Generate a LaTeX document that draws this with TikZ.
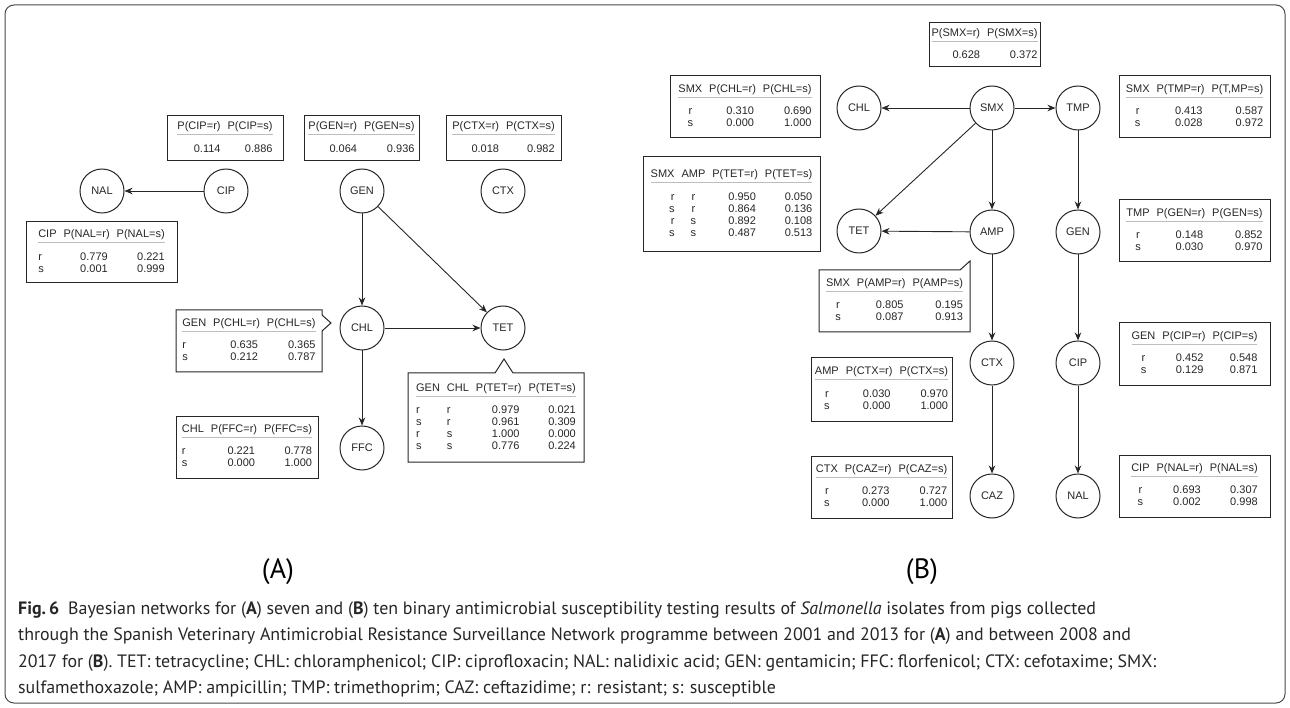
\documentclass[tikz,border=0pt]{standalone}
\usepackage{fontspec}
\setmainfont{Liberation Sans}
\newfontfamily\capfont{PT Sans}
\usepackage{colortbl}
\usetikzlibrary{arrows.meta}
\definecolor{rulegray}{HTML}{BDBDBD}
\definecolor{txt}{HTML}{262626}
\definecolor{framegray}{HTML}{4A4A4A}
\newcommand\tabfont{\fontsize{11}{12}\selectfont}
\newcommand\hdr{\\[1pt]\hline\noalign{\vskip 8.5pt}}
\newcommand\va[1]{#1\hspace{2pt}}
\newcommand\vb[1]{#1\hspace{5pt}}
\arrayrulecolor{rulegray}
\setlength\arrayrulewidth{1.1pt}
\setlength\tabcolsep{3.5pt}
\tikzset{
  circ/.style={circle, draw=txt, line width=1pt, minimum size=44pt, inner sep=0pt, font=\fontsize{11}{12}\selectfont, text=txt},
  tbl/.style={draw=txt, line width=1pt, inner sep=0pt, font=\tabfont, text=txt},
  tblc/.style={inner sep=0pt, font=\tabfont, text=txt},
  callout/.style={draw=txt, line width=1pt, line join=miter},
  arr/.style={draw=txt, line width=0.9pt, -{Stealth[length=8pt,width=6.5pt,inset=2.5pt]}},
  frame/.style={draw=framegray, line width=1pt, rounded corners=9pt},
  panel/.style={font=\capfont\fontsize{28}{30}\selectfont, text=black, inner sep=0pt},
  capt/.style={font=\capfont\fontsize{17.9}{22}\selectfont, text=txt, inner sep=0pt, anchor=base west}
}
\begin{document}
\begin{tikzpicture}[x=1pt,y=-1pt]
\useasboundingbox (0,0) rectangle (1290,708);
\draw[frame] (5,5) rectangle (1285,703);

% ---------------- Panel A ----------------
\node[circ] (NAL) at (102,191) {NAL};
\node[circ] (CIP) at (226,191) {CIP};
\node[circ] (GEN) at (362,191) {GEN};
\node[circ] (CTX) at (503,191) {CTX};
\node[circ] (CHL) at (362,328) {CHL};
\node[circ] (TET) at (503,328) {TET};
\node[circ] (FFC) at (362,448) {FFC};

\draw[arr] (CIP) -- (NAL);
\draw[arr] (GEN) -- (CHL);
\draw[arr] (GEN) -- (TET);
\draw[arr] (CHL) -- (TET);
\draw[arr] (CHL) -- (FFC);

\node[tbl, minimum width=116pt, minimum height=45pt] (pCIP) at (225,138.5)
 {\begin{tabular}{@{}rr@{}}P(CIP=r) & P(CIP=s)\hdr 0.114 & 0.886\end{tabular}};
\node[tbl, minimum width=115pt, minimum height=45pt] (pGEN) at (361.5,138.5)
 {\begin{tabular}{@{}rr@{}}P(GEN=r) & P(GEN=s)\hdr 0.064 & 0.936\end{tabular}};
\node[tbl, minimum width=115pt, minimum height=45pt] (pCTX) at (503.5,138.5)
 {\begin{tabular}{@{}rr@{}}P(CTX=r) & P(CTX=s)\hdr 0.018 & 0.982\end{tabular}};
\node[tbl, minimum width=151pt, minimum height=61pt] (tNAL) at (101.5,252.5)
 {\begin{tabular}{@{}lrr@{}}CIP & P(NAL=r) & P(NAL=s)\hdr r & \va{0.779} & \vb{0.221}\\ s & \va{0.001} & \vb{0.999}\end{tabular}};
\node[tblc, minimum width=146pt, minimum height=62pt] (tCHL) at (249,341)
 {\begin{tabular}{@{}lrr@{}}GEN & P(CHL=r) & P(CHL=s)\hdr r & \va{0.635} & \vb{0.365}\\ s & \va{0.212} & \vb{0.787}\end{tabular}};
\draw[callout] (176,310) -- (322,310) -- (322,315) -- (331,323) -- (322,331) -- (322,372) -- (176,372) -- cycle;
\node[tbl, minimum width=142pt, minimum height=62pt] (tFFC) at (247,447)
 {\begin{tabular}{@{}lrr@{}}CHL & P(FFC=r) & P(FFC=s)\hdr r & \va{0.221} & \vb{0.778}\\ s & \va{0.000} & \vb{1.000}\end{tabular}};
\node[tblc, minimum width=176pt, minimum height=88pt] (tTET) at (496,418)
 {\begin{tabular}{@{}llrr@{}}GEN & CHL & P(TET=r) & P(TET=s)\hdr r & r & \va{0.979} & \vb{0.021}\\ s & r & \va{0.961} & \vb{0.309}\\ r & s & \va{1.000} & \vb{0.000}\\ s & s & \va{0.776} & \vb{0.224}\end{tabular}};
\draw[callout] (408,373) -- (495,373) -- (504,359) -- (513,373) -- (584,373) -- (584,462) -- (408,462) -- cycle;

\node[panel] (labA) at (278,572) {(A)};

% ---------------- Panel B ----------------
\node[circ] (CHLb) at (859,108) {CHL};
\node[circ] (SMX) at (992,108) {SMX};
\node[circ] (TMP) at (1078,108) {TMP};
\node[circ] (TETb) at (859,231) {TET};
\node[circ] (AMP) at (992,232) {AMP};
\node[circ] (GENb) at (1078,232) {GEN};
\node[circ] (CTXb) at (992,363) {CTX};
\node[circ] (CIPb) at (1078,363) {CIP};
\node[circ] (CAZ) at (992,496) {CAZ};
\node[circ] (NALb) at (1078,496) {NAL};

\draw[arr] (SMX) -- (CHLb);
\draw[arr] (SMX) -- (TMP);
\draw[arr] (SMX) -- (TETb);
\draw[arr] (SMX) -- (AMP);
\draw[arr] (AMP) -- (TETb);
\draw[arr] (AMP) -- (CTXb);
\draw[arr] (CTXb) -- (CAZ);
\draw[arr] (TMP) -- (GENb);
\draw[arr] (GENb) -- (CIPb);
\draw[arr] (CIPb) -- (NALb);

\node[tbl, minimum width=111pt, minimum height=44pt] (pSMX) at (984.5,45)
 {\begin{tabular}{@{}rr@{}}P(SMX=r) & P(SMX=s)\hdr 0.628 & 0.372\end{tabular}};
\node[tbl, minimum width=150pt, minimum height=62pt] (tCHLb) at (745,107)
 {\begin{tabular}{@{}crr@{}}SMX & P(CHL=r) & P(CHL=s)\hdr r & \va{0.310} & \vb{0.690}\\ s & \va{0.000} & \vb{1.000}\end{tabular}};
\node[tbl, minimum width=177pt, minimum height=95pt] (tTETb) at (731.5,204.5)
 {\begin{tabular}{@{}rcrr@{}}SMX & AMP & P(TET=r) & P(TET=s)\hdr r & r & \va{0.950} & \vb{0.050}\\ s & r & \va{0.864} & \vb{0.136}\\ r & s & \va{0.892} & \vb{0.108}\\ s & s & \va{0.487} & \vb{0.513}\end{tabular}};
\node[tbl, minimum width=151pt, minimum height=62pt] (tTMP) at (1194.5,107)
 {\begin{tabular}{@{}crr@{}}SMX & P(TMP=r) & P(T,MP=s)\hdr r & \va{0.413} & \vb{0.587}\\ s & \va{0.028} & \vb{0.972}\end{tabular}};
\node[tbl, minimum width=151pt, minimum height=62pt] (tGENb) at (1194.5,231)
 {\begin{tabular}{@{}crr@{}}TMP & P(GEN=r) & P(GEN=s)\hdr r & \va{0.148} & \vb{0.852}\\ s & \va{0.030} & \vb{0.970}\end{tabular}};
\node[tblc, minimum width=151pt, minimum height=62pt] (tAMP) at (894.5,301)
 {\begin{tabular}{@{}crr@{}}SMX & P(AMP=r) & P(AMP=s)\hdr r & \va{0.805} & \vb{0.195}\\ s & \va{0.087} & \vb{0.913}\end{tabular}};
\draw[callout] (819,270) -- (960,270) -- (970,261) -- (970,332) -- (819,332) -- cycle;
\node[tbl, minimum width=151pt, minimum height=62pt] (tCIPb) at (1194.5,354)
 {\begin{tabular}{@{}crr@{}}GEN & P(CIP=r) & P(CIP=s)\hdr r & \va{0.452} & \vb{0.548}\\ s & \va{0.129} & \vb{0.871}\end{tabular}};
\node[tbl, minimum width=141pt, minimum height=63pt] (tCTX) at (881.5,389.5)
 {\begin{tabular}{@{}crr@{}}AMP & P(CTX=r) & P(CTX=s)\hdr r & \va{0.030} & \vb{0.970}\\ s & \va{0.000} & \vb{1.000}\end{tabular}};
\node[tbl, minimum width=141pt, minimum height=62pt] (tCAZ) at (881.5,487)
 {\begin{tabular}{@{}crr@{}}CTX & P(CAZ=r) & P(CAZ=s)\hdr r & \va{0.273} & \vb{0.727}\\ s & \va{0.000} & \vb{1.000}\end{tabular}};
\node[tbl, minimum width=151pt, minimum height=62pt] (tNALb) at (1194.5,486)
 {\begin{tabular}{@{}crr@{}}CIP & P(NAL=r) & P(NAL=s)\hdr r & \va{0.693} & \vb{0.307}\\ s & \va{0.002} & \vb{0.998}\end{tabular}};

\node[panel] (labB) at (922,572) {(B)};

% ---------------- Caption ----------------
\node[capt] (cap1) at (18,614)
 {{\bfseries Fig.\,6}\hspace{9pt}Bayesian networks for ({\bfseries A}) seven and ({\bfseries B}) ten binary antimicrobial susceptibility testing results of \textit{Salmonella} isolates from pigs collected};
\node[capt] (cap2) at (18,640.5)
 {through the Spanish Veterinary Antimicrobial Resistance Surveillance Network programme between 2001 and 2013 for ({\bfseries A}) and between 2008 and};
\node[capt] (cap3) at (18,667)
 {2017 for ({\bfseries B}). TET: tetracycline; CHL: chloramphenicol; CIP: ciprofloxacin; NAL: nalidixic acid; GEN: gentamicin; FFC: florfenicol; CTX: cefotaxime; SMX:};
\node[capt] (cap4) at (18,693)
 {sulfamethoxazole; AMP: ampicillin; TMP: trimethoprim; CAZ: ceftazidime; r: resistant; s: susceptible};
\end{tikzpicture}
\end{document}
